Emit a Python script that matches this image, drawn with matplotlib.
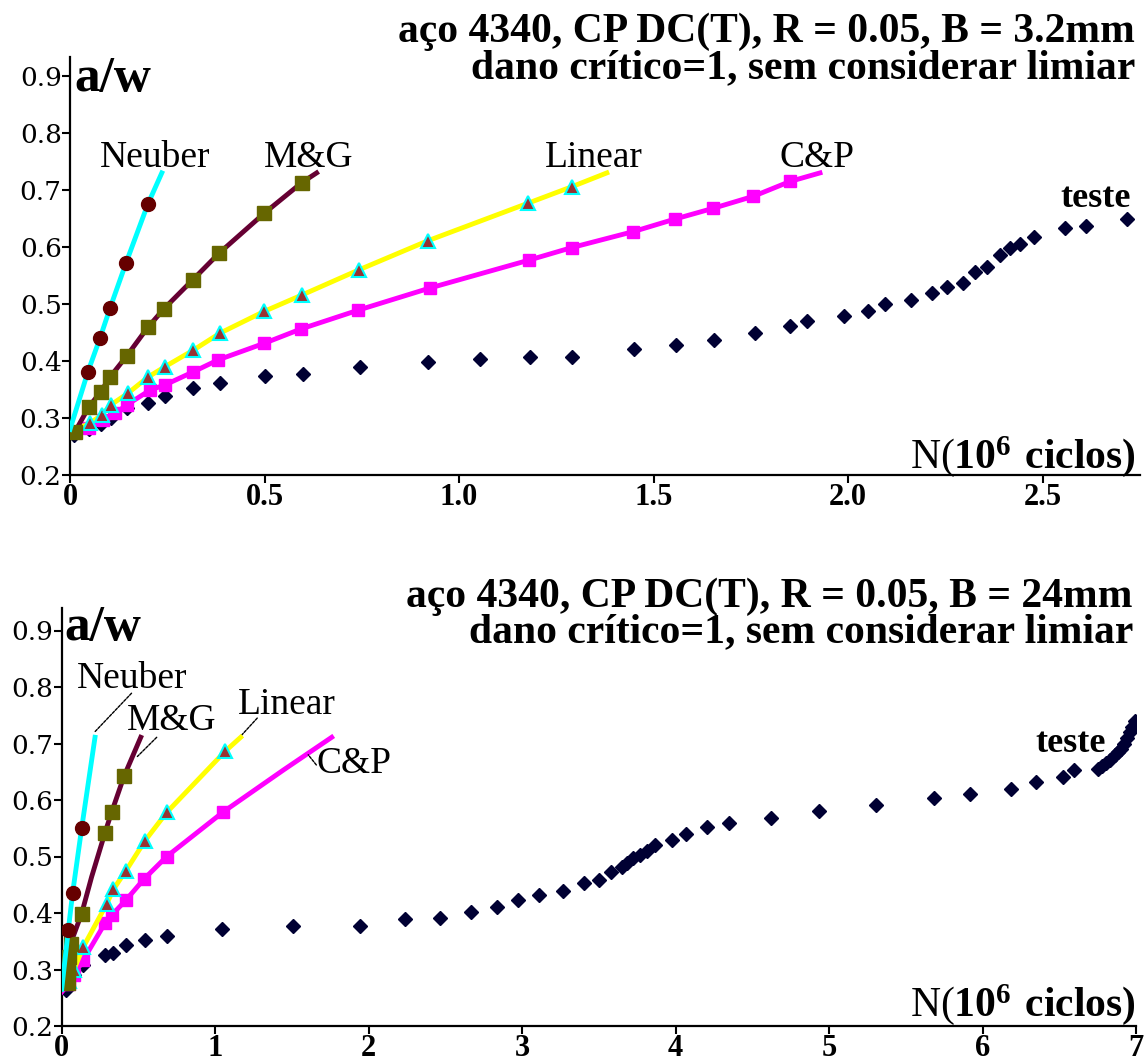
import matplotlib
matplotlib.use('Agg')
import matplotlib.pyplot as plt

plt.rcParams['mathtext.fontset'] = 'custom'
plt.rcParams['mathtext.rm'] = 'Liberation Serif'
plt.rcParams['mathtext.bf'] = 'Liberation Serif:bold'

# ---------- top panel: B = 3.2mm ----------
neuber_top_x = [0.0, 0.046, 0.077, 0.103, 0.144, 0.200, 0.236]
neuber_top_y = [0.28, 0.381, 0.440, 0.493, 0.572, 0.675, 0.730]
neuber_top_mk = [1, 2, 3, 4, 5]

mg_top_x = [0.0, 0.013, 0.049, 0.079, 0.103, 0.146, 0.200, 0.242, 0.315, 0.383, 0.499, 0.596, 0.634]
mg_top_y = [0.27, 0.276, 0.320, 0.346, 0.372, 0.409, 0.459, 0.492, 0.542, 0.589, 0.659, 0.713, 0.730]
mg_top_mk = list(range(1, 12))

linear_top_x = [0.0, 0.051, 0.081, 0.105, 0.148, 0.201, 0.244, 0.317, 0.386, 0.499, 0.597, 0.743,
                0.920, 1.178, 1.291, 1.380]
linear_top_y = [0.275, 0.291, 0.305, 0.323, 0.343, 0.372, 0.390, 0.419, 0.449, 0.487, 0.516, 0.560,
                0.611, 0.677, 0.706, 0.730]
linear_top_mk = list(range(1, 15))

cp_top_x = [0.0, 0.05, 0.086, 0.116, 0.146, 0.206, 0.244, 0.317, 0.381, 0.499, 0.593, 0.740, 0.925,
            1.180, 1.290, 1.448, 1.555, 1.654, 1.757, 1.851, 1.928]
cp_top_y = [0.27, 0.283, 0.296, 0.308, 0.323, 0.349, 0.358, 0.381, 0.402, 0.431, 0.456, 0.489, 0.528,
            0.577, 0.599, 0.627, 0.649, 0.668, 0.689, 0.715, 0.730]
cp_top_mk = list(range(1, 20))

teste_top_x = [0.01, 0.05, 0.08, 0.105, 0.146, 0.201, 0.244, 0.317, 0.386, 0.501, 0.598, 0.746, 0.921,
               1.054, 1.183, 1.291, 1.450, 1.558, 1.656, 1.761, 1.851, 1.894, 1.991, 2.052, 2.095,
               2.162, 2.217, 2.254, 2.295, 2.326, 2.357, 2.391, 2.416, 2.442, 2.478, 2.558, 2.612, 2.716]
teste_top_y = [0.27, 0.28, 0.29, 0.30, 0.317, 0.327, 0.339, 0.353, 0.362, 0.374, 0.378, 0.390, 0.399,
               0.403, 0.407, 0.407, 0.421, 0.428, 0.437, 0.450, 0.461, 0.470, 0.479, 0.487, 0.500,
               0.507, 0.520, 0.529, 0.536, 0.557, 0.565, 0.586, 0.598, 0.606, 0.617, 0.633, 0.636, 0.649]

# ---------- bottom panel: B = 24mm ----------
neuber_bot_x = [0.0, 0.043, 0.071, 0.130, 0.217]
neuber_bot_y = [0.265, 0.370, 0.435, 0.550, 0.711]
neuber_bot_mk = [1, 2, 3]

mg_bot_x = [0.0, 0.040, 0.043, 0.048, 0.058, 0.130, 0.195, 0.282, 0.326, 0.406, 0.515]
mg_bot_y = [0.265, 0.276, 0.298, 0.322, 0.346, 0.399, 0.464, 0.542, 0.579, 0.642, 0.711]
mg_bot_mk = [1, 2, 3, 4, 5, 7, 8, 9]

linear_bot_x = [0.0, 0.045, 0.08, 0.141, 0.293, 0.337, 0.419, 0.543, 0.684, 1.064, 1.166]
linear_bot_y = [0.265, 0.28, 0.30, 0.340, 0.416, 0.442, 0.475, 0.528, 0.578, 0.686, 0.711]
linear_bot_mk = list(range(1, 10))

cp_bot_x = [0.0, 0.045, 0.08, 0.141, 0.282, 0.325, 0.419, 0.536, 0.684, 1.053, 1.444, 1.759]
cp_bot_y = [0.26, 0.275, 0.29, 0.317, 0.382, 0.396, 0.423, 0.460, 0.500, 0.579, 0.653, 0.711]
cp_bot_mk = list(range(1, 10))

teste_bot_x = [0.03, 0.08, 0.141, 0.282, 0.336, 0.419, 0.543, 0.688, 1.046, 1.509, 1.943, 2.236, 2.464,
               2.664, 2.834, 2.971, 3.110, 3.264, 3.403, 3.501, 3.577, 3.648, 3.681, 3.725, 3.767,
               3.811, 3.865, 3.974, 4.067, 4.206, 4.347, 4.621, 4.934, 5.303, 5.685, 5.917, 6.182,
               6.348, 6.522, 6.598, 6.75, 6.78, 6.80, 6.83, 6.86, 6.88, 6.90, 6.92, 6.94, 6.96, 6.975, 6.99]
teste_bot_y = [0.264, 0.29, 0.308, 0.326, 0.329, 0.343, 0.352, 0.359, 0.371, 0.377, 0.377, 0.389, 0.392,
               0.401, 0.410, 0.423, 0.431, 0.439, 0.453, 0.458, 0.472, 0.482, 0.488, 0.497, 0.503,
               0.510, 0.520, 0.530, 0.539, 0.552, 0.560, 0.569, 0.581, 0.591, 0.603, 0.611, 0.619,
               0.631, 0.640, 0.653, 0.655, 0.660, 0.665, 0.670, 0.680, 0.685, 0.690, 0.700, 0.710, 0.720, 0.730, 0.740]

y_ticks = [0.2, 0.3, 0.4, 0.5, 0.6, 0.7, 0.8, 0.9]
y_labels = ['0.2', '0.3', '0.4', '0.5', '0.6', '0.7', '0.8', '0.9']
top_xticks = [0, 0.5, 1.0, 1.5, 2.0, 2.5]
top_xlabels = ['0', '0.5', '1.0', '1.5', '2.0', '2.5']
bot_xticks = [0, 1, 2, 3, 4, 5, 6, 7]
bot_xlabels = ['0', '1', '2', '3', '4', '5', '6', '7']

W, H = 1144, 1064
fig = plt.figure(figsize=(W / 100, H / 100), dpi=100)

ax1 = fig.add_axes([70 / W, 1 - 475 / H, 1069.75 / W, 417.8 / H])
ax2 = fig.add_axes([61.7 / W, 1 - 1026 / H, 1074.5 / W, 418.1 / H])

serif = 'Liberation Serif'


def pick(vals, idx):
    return [vals[i] for i in idx]


def draw_curves(ax, n, m, l, c, t):
    ax.plot(t[0], t[1], ls='none', marker='D', ms=7, color='#000033', zorder=2)
    ax.plot(c[0], c[1], color='#FF00FF', lw=3.5, zorder=3)
    ax.plot(pick(c[0], c[2]), pick(c[1], c[2]), ls='none', marker='s', ms=9, color='#FF00FF', zorder=3)
    ax.plot(l[0], l[1], color='#FFFF00', lw=3.5, zorder=4)
    ax.plot(pick(l[0], l[2]), pick(l[1], l[2]), ls='none', marker='^', ms=10, mfc='#993333',
            mec='#00FFFF', mew=1.5, zorder=4)
    ax.plot(m[0], m[1], color='#660033', lw=3.5, zorder=5)
    ax.plot(pick(m[0], m[2]), pick(m[1], m[2]), ls='none', marker='s', ms=10, color='#666600', zorder=5)
    ax.plot(n[0], n[1], color='#00FFFF', lw=3.5, zorder=6)
    ax.plot(pick(n[0], n[2]), pick(n[1], n[2]), ls='none', marker='o', ms=10, color='#660000', zorder=6)


draw_curves(ax1, (neuber_top_x, neuber_top_y, neuber_top_mk), (mg_top_x, mg_top_y, mg_top_mk),
            (linear_top_x, linear_top_y, linear_top_mk), (cp_top_x, cp_top_y, cp_top_mk),
            (teste_top_x, teste_top_y))
draw_curves(ax2, (neuber_bot_x, neuber_bot_y, neuber_bot_mk), (mg_bot_x, mg_bot_y, mg_bot_mk),
            (linear_bot_x, linear_bot_y, linear_bot_mk), (cp_bot_x, cp_bot_y, cp_bot_mk),
            (teste_bot_x, teste_bot_y))

ax1.set_xlim(0, 2.75)
ax1.set_ylim(0.2, 0.933)
ax2.set_xlim(0, 7)
ax2.set_ylim(0.2, 0.94)

for ax, xt, xl in [(ax1, top_xticks, top_xlabels), (ax2, bot_xticks, bot_xlabels)]:
    for s in ['top', 'right']:
        ax.spines[s].set_visible(False)
    for s in ['left', 'bottom']:
        ax.spines[s].set_linewidth(1.6)
    ax.set_xticks(xt)
    ax.set_xticklabels(xl, fontfamily=serif, fontweight='bold', fontsize=22)
    ax.set_yticks(y_ticks)
    ax.set_yticklabels(y_labels, fontfamily='DejaVu Serif', fontsize=19)
    ax.tick_params(direction='out', length=6, width=1.5, pad=0)
    ax.patch.set_alpha(0)

# curve labels, top
lab = dict(fontfamily=serif, fontsize=27, va='center', ha='left')
ax1.text(0.077, 0.756, 'Neuber', **lab)
ax1.text(0.499, 0.756, 'M&G', **lab)
ax1.text(1.221, 0.756, 'Linear', **lab)
ax1.text(1.825, 0.756, 'C&P', **lab)
ax1.text(2.545, 0.685, 'teste', fontfamily=serif, fontweight='bold', fontsize=26, va='center', ha='left')

# curve labels, bottom, with leader lines
ax2.text(0.098, 0.815, 'Neuber', **lab)
ax2.text(0.422, 0.740, 'M&G', **lab)
ax2.text(1.150, 0.768, 'Linear', **lab)
ax2.text(1.661, 0.665, 'C&P', **lab)
ax2.text(6.34, 0.700, 'teste', fontfamily=serif, fontweight='bold', fontsize=26, va='center', ha='left')
leader = dict(arrowstyle='-', color='black', lw=1, linestyle=(0, (2, 1)), shrinkA=0, shrinkB=0)
ax2.annotate('', xy=(0.217, 0.721), xytext=(0.455, 0.789), arrowprops=leader)
ax2.annotate('', xy=(0.493, 0.677), xytext=(0.619, 0.711), arrowprops=leader)
ax2.annotate('', xy=(1.166, 0.713), xytext=(1.274, 0.745), arrowprops=leader)
ax2.annotate('', xy=(1.606, 0.680), xytext=(1.659, 0.662), arrowprops=leader)

# axis labels
fig.text(74 / W, 1 - 79 / H, 'a/w', fontfamily=serif, fontweight='bold', fontsize=37, va='center', ha='left')
fig.text(64 / W, 1 - 628 / H, 'a/w', fontfamily=serif, fontweight='bold', fontsize=37, va='center', ha='left')
nlab = r'$\mathrm{N(}\mathbf{10^{6}}$ $\mathbf{ciclos)}$'
fig.text(1136 / W, 1 - 468 / H, nlab, fontsize=30, va='baseline', ha='right')
fig.text(1136 / W, 1 - 1016 / H, nlab, fontsize=30, va='baseline', ha='right')

# titles
tt = dict(fontfamily=serif, fontweight='bold', fontsize=30, va='baseline', ha='right')
fig.text(1135 / W, 1 - 42 / H, 'aço 4340, CP DC(T), R = 0.05, B = 3.2mm', **tt)
fig.text(1135 / W, 1 - 78 / H, 'dano crítico=1, sem considerar limiar', **tt)
fig.text(1133 / W, 1 - 607 / H, 'aço 4340, CP DC(T), R = 0.05, B = 24mm', **tt)
fig.text(1133 / W, 1 - 642 / H, 'dano crítico=1, sem considerar limiar', **tt)

fig.savefig('out.png', dpi=100)
